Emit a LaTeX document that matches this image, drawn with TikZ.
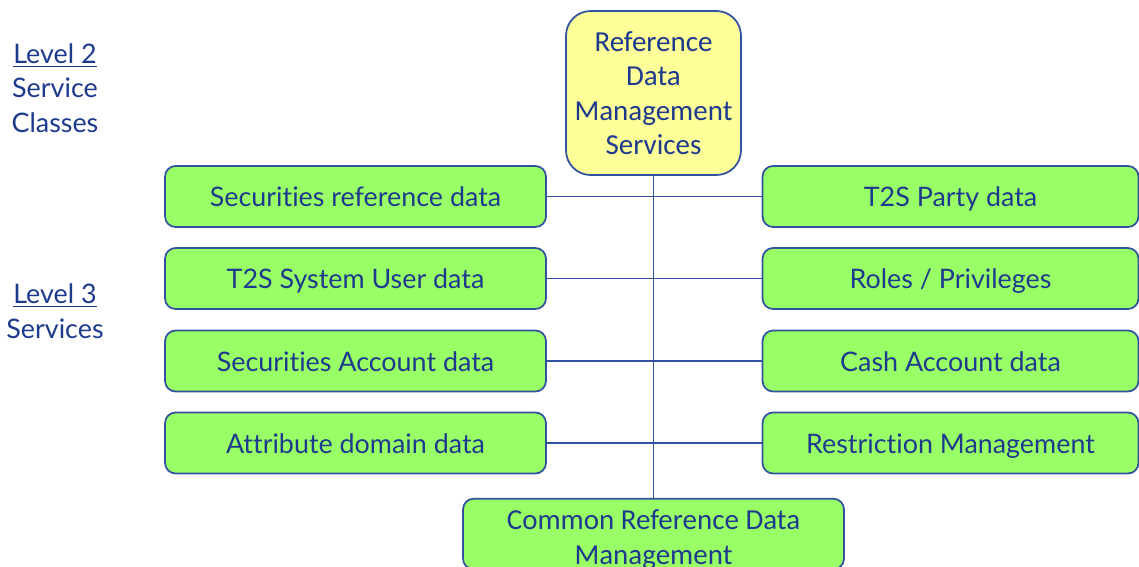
\documentclass[tikz,border=0pt]{standalone}
\usepackage{fontspec}
\setmainfont{Lato}[Ligatures={NoCommon,NoContextual}]
\newfontfamily\calfont{Carlito}
\usetikzlibrary{positioning}
\definecolor{txtblue}{RGB}{30,58,140}
\definecolor{lineblue}{RGB}{50,82,160}
\definecolor{boxgreen}{RGB}{153,255,102}
\definecolor{boxyellow}{RGB}{255,255,153}

\tikzset{
	svcbox/.style={draw=lineblue, line width=1pt, fill=boxgreen, rounded corners=6pt, minimum width=7.62cm, minimum height=1.22cm, inner sep=0pt, text height=11.5pt, text depth=0pt, text=txtblue, font=\fontsize{15.3}{19.6}\selectfont},
	classbox/.style={draw=lineblue, line width=1pt, fill=boxyellow, rounded corners=14pt, minimum width=3.5cm, minimum height=3.28cm, inner sep=0pt, align=center, text=txtblue, font=\calfont\fontsize{16.5}{19.6}\selectfont},
	levellabel/.style={align=center, text=txtblue, inner sep=0pt, font=\fontsize{15.3}{19.6}\selectfont},
	link/.style={draw=lineblue, line width=1.1pt}
}

\begin{document}
\begin{tikzpicture}[x=0.02cm, y=-0.02cm]
			%%%%% START %%%%%
			\useasboundingbox (0, 0) rectangle (1139, 566);
			
			\node[levellabel] (lvltwo) at (55, 88) {\underline{Level 2}\\Service\\Classes};
			\node[levellabel] (lvlthree) at (55, 311) {\underline{Level 3}\\Services};
			
			\node[classbox] (rdms) at (653.5, 93) {Reference\\Data\\Management\\Services};
			
			\node[svcbox] (secref) at (355.5, 196.5) {Securities reference data};
			\node[svcbox] (sysuser) at (355.5, 278.5) {T2S System User data};
			\node[svcbox] (secacc) at (355.5, 361) {Securities Account data};
			\node[svcbox] (attrdom) at (355.5, 443) {Attribute domain data};
			
			\node[svcbox, minimum width=7.52cm] (party) at (950.5, 196.5) {T2S Party data};
			\node[svcbox, minimum width=7.52cm] (roles) at (950.5, 278.5) {Roles / Privileges};
			\node[svcbox, minimum width=7.52cm] (cashacc) at (950.5, 361) {Cash Account data};
			\node[svcbox, minimum width=7.52cm] (restrict) at (950.5, 443) {Restriction Management};
			
			\node[svcbox, minimum height=1.2cm, align=center, text height=, text depth=, font=\calfont\fontsize{16.5}{19.8}\selectfont] (common) at (653.5, 534) {\rule{0pt}{17.5pt}Common Reference Data\\Management};
			
			\draw[link] (rdms.south) -- (common.north);
			\draw[link] (secref.east) -- (party.west);
			\draw[link] (sysuser.east) -- (roles.west);
			\draw[link] (secacc.east) -- (cashacc.west);
			\draw[link] (attrdom.east) -- (restrict.west);
			%%%%% END %%%%%
\end{tikzpicture}
\end{document}
